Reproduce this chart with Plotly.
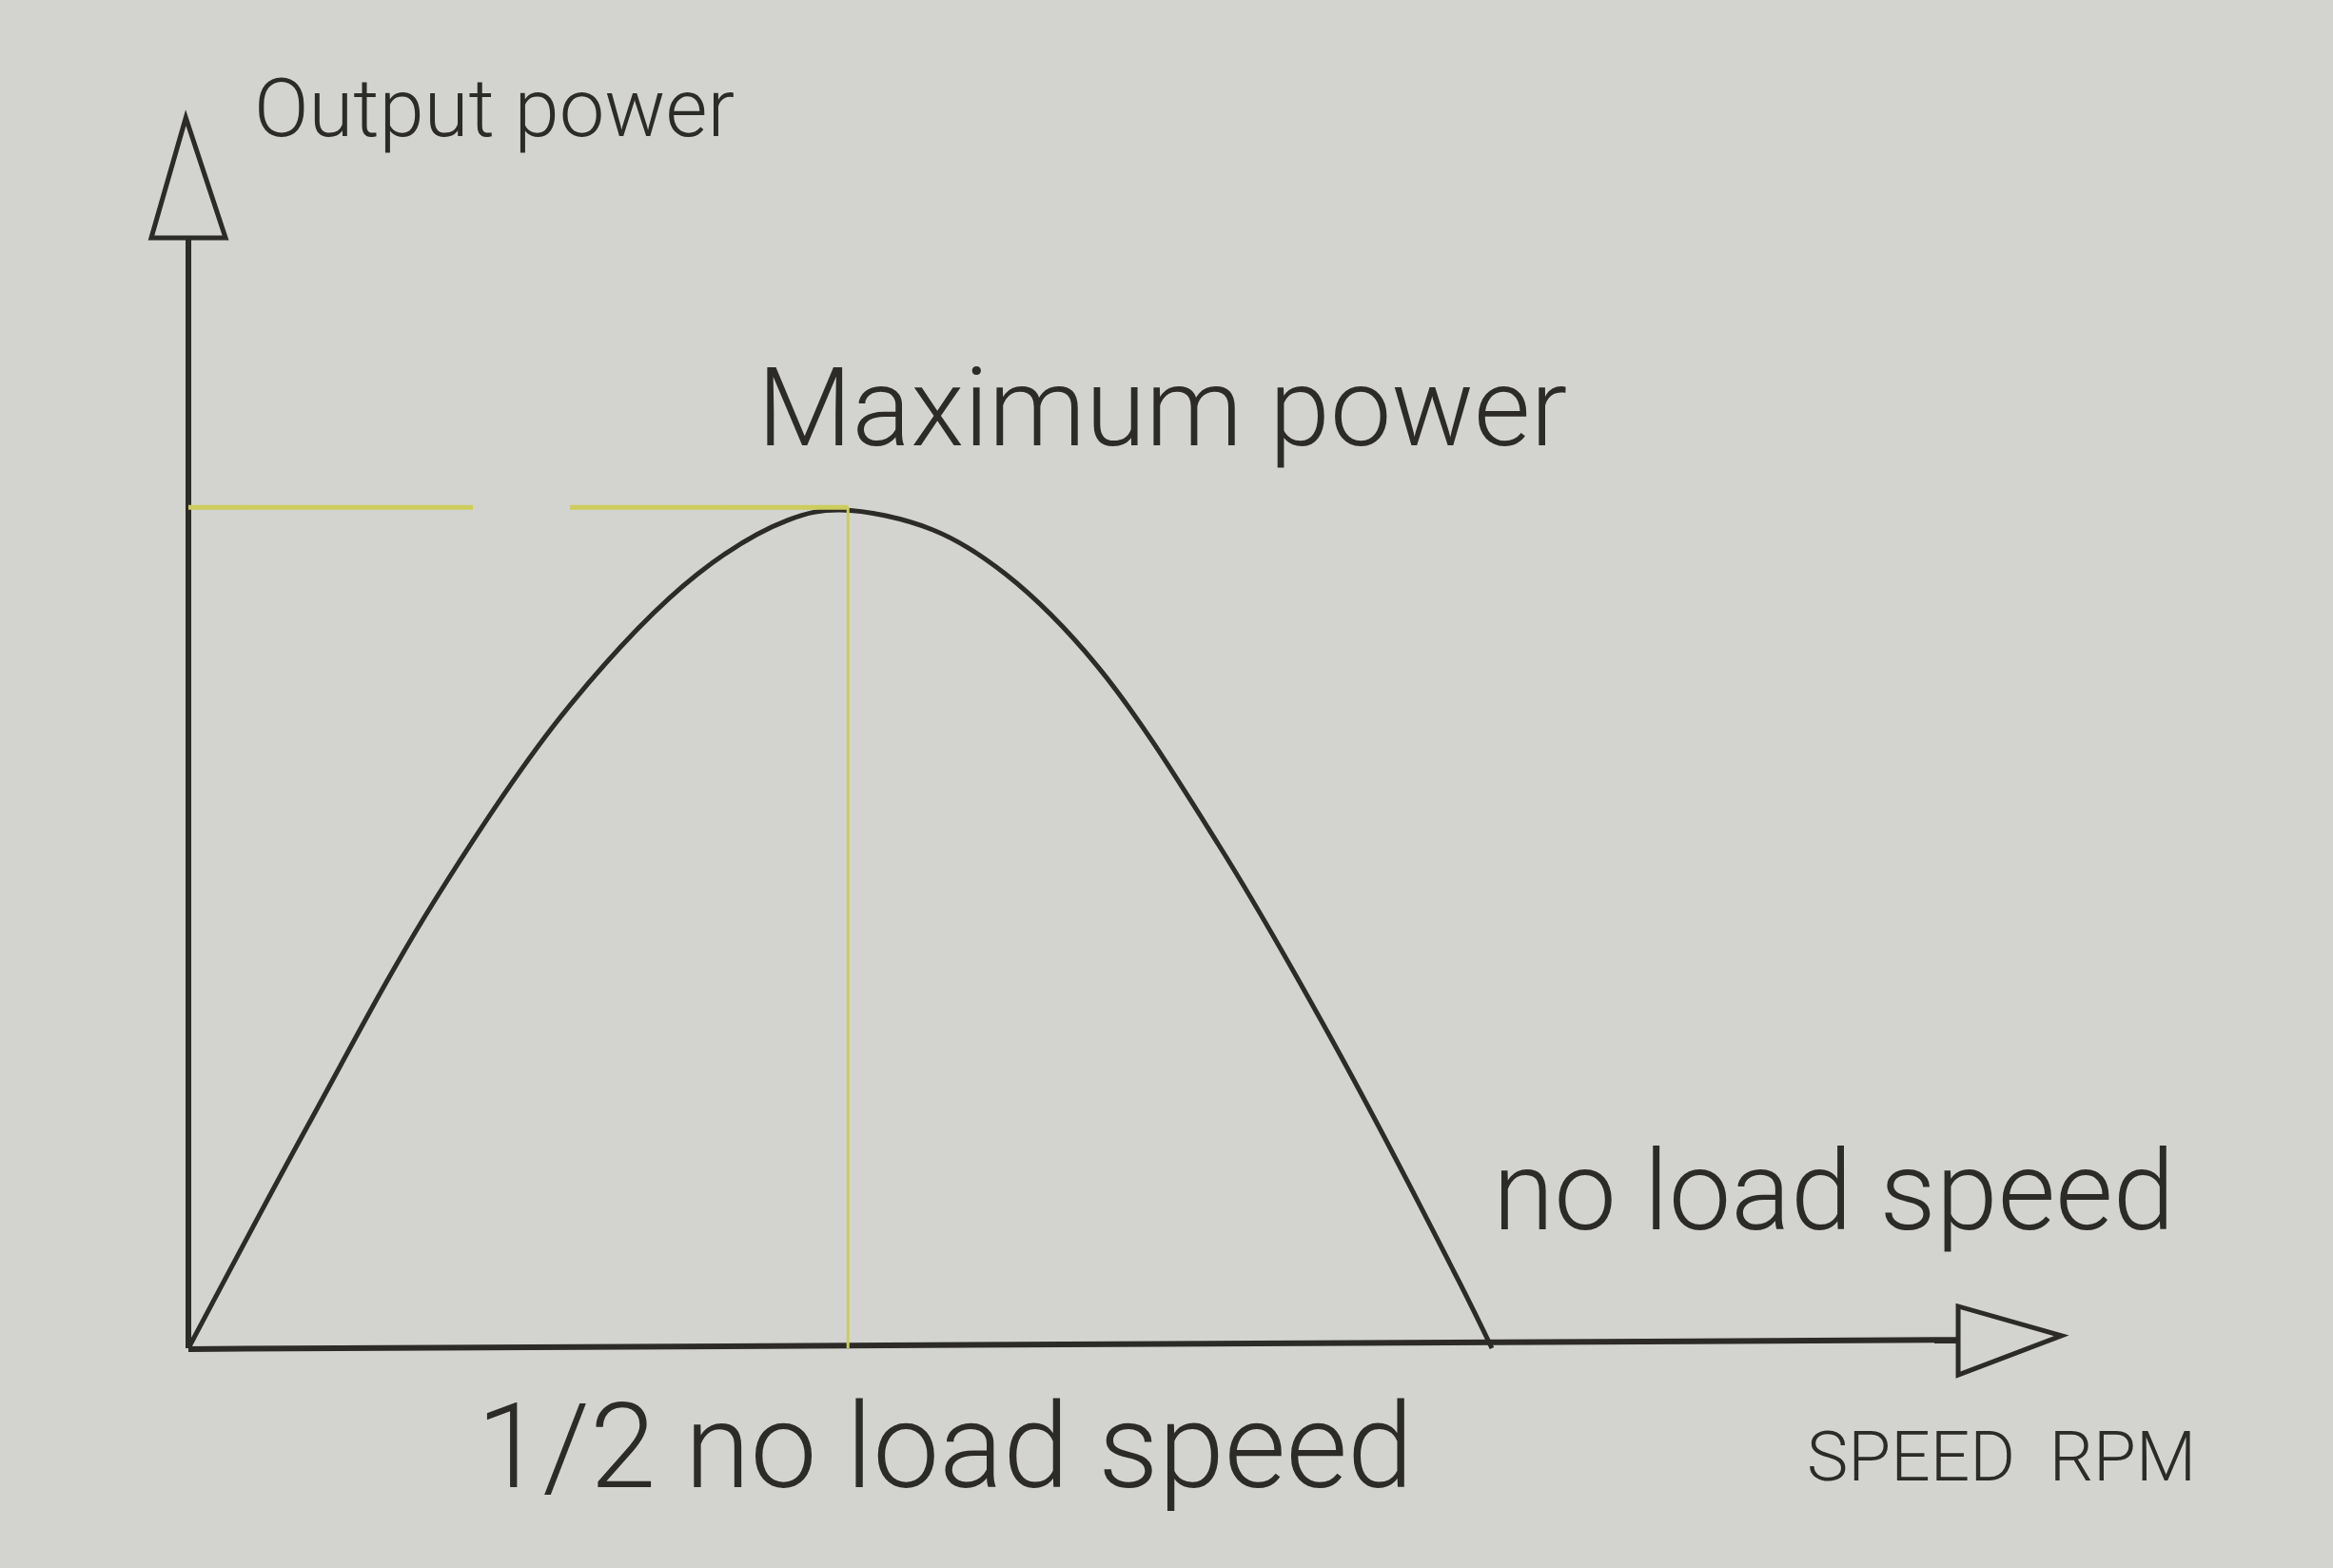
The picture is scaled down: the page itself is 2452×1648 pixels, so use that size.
import plotly.graph_objects as go

# ---- data (speed as fraction of no-load speed, power as fraction of max power) ----
curve_speed = [0.0, 0.0915, 0.1888, 0.2934, 0.3907, 0.4600, 0.500,
               0.5708, 0.6268, 0.6973, 0.7898, 0.8774, 0.9747, 1.0]
curve_power = [0.0, 0.2653, 0.5338, 0.7684, 0.9236, 0.9880, 1.0,
               0.9765, 0.9236, 0.8138, 0.6019, 0.3674, 0.0798, 0.0]
peak_speed = 0.506
peak_power = 1.003
labels = {
    "y_title": "Output power",
    "peak": "Maximum power",
    "no_load": "no load speed",
    "half": "1/2 no load speed",
    "x_title": "SPEED  RPM",
}

INK = "#2c2b27"
YEL = "#cccd5c"
BG = "#d3d4d0"
FONT = "Roboto"

fig = go.Figure()

# axes lines
fig.add_trace(go.Scatter(x=[0, 0], y=[0, 1.325], mode="lines",
                         line=dict(color=INK, width=6), hoverinfo="skip"))
fig.add_trace(go.Scatter(x=[0, 1.358], y=[-0.001, 0.010], mode="lines",
                         line=dict(color=INK, width=6), hoverinfo="skip"))

# power curve
fig.add_trace(go.Scatter(x=curve_speed, y=curve_power, mode="lines",
                         line=dict(color=INK, width=5, shape="spline", smoothing=1.0),
                         hoverinfo="skip"))

# guide lines to the maximum
fig.add_trace(go.Scatter(x=[0, peak_speed], y=[peak_power, peak_power], mode="lines",
                         line=dict(color=YEL, width=5, dash="299px,102px"), hoverinfo="skip"))
fig.add_trace(go.Scatter(x=[peak_speed, peak_speed], y=[0, peak_power], mode="lines",
                         line=dict(color=YEL, width=3), hoverinfo="skip"))

# arrowheads (hollow triangles)
fig.add_shape(type="path", path="M -0.0285,1.3246 L 0.0285,1.3246 L -0.002,1.468 Z",
              line=dict(color=INK, width=5), fillcolor=BG, xref="x", yref="y")
fig.add_shape(type="path", path="M 1.3577,0.050 L 1.3577,-0.032 L 1.437,0.0148 Z",
              line=dict(color=INK, width=5), fillcolor=BG, xref="x", yref="y")

def txt(x, y, s, size):
    fig.add_annotation(x=x, y=y, text=s, showarrow=False, xanchor="left", yanchor="bottom",
                       font=dict(family=FONT, size=size, color=INK, weight=300))

txt(0.049, 1.420, labels["y_title"], 85)
txt(0.435, 1.043, labels["peak"], 115)
txt(0.999, 0.107, labels["no_load"], 117)
txt(0.220, -0.203, labels["half"], 125)
txt(1.240, -0.181, labels["x_title"], 73)

fig.update_layout(
    width=2452, height=1648, autosize=False,
    margin=dict(l=0, r=0, t=0, b=0),
    paper_bgcolor=BG, plot_bgcolor=BG,
    showlegend=False,
    xaxis=dict(range=[-0.14453, 1.64526], visible=False, fixedrange=True),
    yaxis=dict(range=[-0.2622, 1.6084], visible=False, fixedrange=True),
)

fig.write_html("out.html", config={"displayModeBar": False})
